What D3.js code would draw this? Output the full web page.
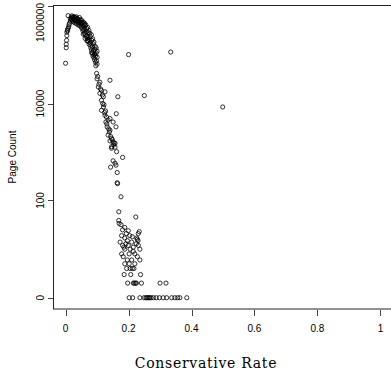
<!doctype html>
<html lang="en">
  <head>
    <meta charset="utf-8">
    <title>Page Count vs Conservative Rate</title>
    <script src="https://d3js.org/d3.v7.min.js"></script>
    <style>
      body { margin: 0; background: #fff; }
      .tick-label { font-family: "Liberation Sans", Arial, sans-serif; font-size: 10px; fill: #000; }
      .pt { fill: none; stroke: #000; stroke-width: 0.8; }
    </style>
  </head>
  <body>
    <script>

      // one entry per page group: conservative rate and page count
      var conservativeRate = [
        // left column near 0
        0.000, 0.002, 0.002, 0.003, 0.004, 0.004, 0.006, 0.006, 0.008, 0.010, 0.011,
        // peak and upper decline
        0.008, 0.015, 0.018, 0.020, 0.022, 0.025, 0.025, 0.028, 0.030, 0.030,
        0.032, 0.035, 0.035, 0.038, 0.040, 0.040, 0.042, 0.045, 0.045, 0.048,
        0.050, 0.050, 0.052, 0.055, 0.055, 0.058, 0.060, 0.060, 0.062, 0.065,
        0.065, 0.068, 0.070, 0.070, 0.072, 0.075, 0.075, 0.078, 0.080, 0.080,
        0.082, 0.085, 0.085, 0.088, 0.090, 0.090, 0.092, 0.095, 0.095, 0.098,
        0.018, 0.022, 0.028, 0.033, 0.042, 0.047, 0.053, 0.058, 0.062, 0.067,
        0.072, 0.078, 0.083, 0.088, 0.093, 0.097, 0.100, 0.015, 0.012,
        0.020, 0.026, 0.034, 0.037, 0.044, 0.050, 0.056, 0.060, 0.064, 0.070,
        0.074, 0.077, 0.082, 0.086, 0.090, 0.094, 0.097, 0.100, 0.100, 0.096,
        0.092, 0.087, 0.083, 0.068, 0.062, 0.056,
        // steep section
        0.0985, 0.100, 0.109, 0.104, 0.114, 0.109, 0.120, 0.114, 0.125, 0.114,
        0.120, 0.125, 0.130, 0.128, 0.135, 0.141, 0.151, 0.132, 0.141, 0.135,
        0.146, 0.151, 0.157, 0.146,
        0.102, 0.106, 0.111, 0.117, 0.118, 0.122, 0.124, 0.127, 0.131, 0.137,
        0.139, 0.143, 0.148, 0.153,
        // outliers
        0.141, 0.166, 0.161, 0.160, 0.200, 0.334, 0.250, 0.499,
        // middle
        0.141, 0.154, 0.146, 0.157, 0.162, 0.181, 0.151, 0.157, 0.160, 0.143,
        0.164, 0.164, 0.165, 0.176,
        // low counts
        0.169, 0.223, 0.169, 0.170, 0.176, 0.188, 0.181, 0.199, 0.178, 0.204,
        0.231, 0.234, 0.226, 0.188, 0.196, 0.173, 0.210, 0.181, 0.199, 0.215,
        0.231, 0.188, 0.236, 0.178, 0.202, 0.220, 0.183, 0.228, 0.196, 0.210,
        0.236, 0.188, 0.202, 0.220, 0.194, 0.217, 0.205, 0.212,
        0.192, 0.205, 0.215, 0.185, 0.225, 0.228, 0.193, 0.212, 0.230,
        0.186, 0.207, 0.238,
        0.197, 0.215, 0.218, 0.222, 0.225, 0.241, 0.300, 0.319,
        0.202, 0.213, 0.236, 0.249, 0.255, 0.258, 0.262, 0.265, 0.268, 0.272,
        0.279, 0.288, 0.298, 0.310, 0.321, 0.337, 0.347, 0.356, 0.363, 0.385
      ];

      var pageCount = [
        67600, 141000, 166000, 200000, 251000, 295000, 316000, 331000, 355000, 380000, 417000,
        646000, 562000, 603000, 525000, 501000, 575000, 479000, 525000, 457000, 550000,
        501000, 437000, 525000, 479000, 417000, 501000, 457000, 398000, 479000, 437000,
        380000, 457000, 355000, 398000, 316000, 331000, 282000, 355000, 263000, 302000,
        240000, 251000, 224000, 200000, 191000, 209000, 166000, 178000, 158000, 141000,
        126000, 151000, 112000, 120000, 100000, 89100, 79400, 95500, 70800, 75900,
        550000, 590000, 600000, 580000, 540000, 520000, 470000, 430000, 400000, 350000,
        290000, 240000, 200000, 170000, 130000, 110000, 90000, 500000, 450000,
        640000, 620000, 610000, 560000, 590000, 530000, 480000, 450000, 420000, 370000,
        320000, 280000, 260000, 215000, 185000, 150000, 140000, 120000, 65000, 60000,
        105000, 95000, 110000, 195000, 220000, 270000,
        41700, 32400, 27500, 21900, 18600, 16200, 13800, 11700, 17400, 7240,
        8500, 5750, 5250, 4170, 4570, 4900, 4170, 3310, 2820, 2240,
        1910, 1620, 1510, 1290,
        36000, 25000, 20000, 15000, 10000, 9500, 6500, 7000, 3800, 3000,
        2600, 2100, 1800, 1400,
        30200, 13800, 6170, 3310, 102000, 115000, 14600, 8500,
        1700, 1550, 1200, 1260, 1020, 775, 660, 588, 536, 489,
        379, 233, 223, 119,
        58, 45, 38, 33, 31, 27, 24, 23, 18, 18,
        20, 22, 16, 16, 14, 13, 13, 11, 11, 10,
        11, 9, 9, 7, 7, 7, 6, 6, 5, 5,
        5, 4, 4, 4, 3, 3, 3, 3,
        12, 9, 8, 10, 12, 15, 20, 17, 14,
        2, 2, 2,
        1, 1, 1, 1, 1, 1, 1, 1,
        0, 0, 0, 0, 0, 0, 0, 0, 0, 0,
        0, 0, 0, 0, 0, 0, 0, 0, 0, 0
      ];

      var xTicks = [0, 0.2, 0.4, 0.6, 0.8, 1];
      var yTicks = [0, 100, 10000, 1000000];

      var width = 391, height = 376;

      var svg = d3.select("body").append("svg")
          .attr("width", width)
          .attr("height", height);

      svg.append("rect").attr("width", width).attr("height", height).attr("fill", "#fff");

      // plot region, R style 4% padding; right edge falls just outside the window
      var x = d3.scaleLinear().domain([-0.04, 1.04]).range([53, 393]);
      var y = d3.scaleLinear().domain([-0.232, 6.03]).range([309, 5]);
      function yv(v) { return y(Math.log10(v + 1)); }

      svg.append("rect")
          .attr("x", 53.5).attr("y", 5.5)
          .attr("width", 340).attr("height", 303.5)
          .attr("fill", "none").attr("stroke", "#222").attr("stroke-width", 1);

      // x axis ticks
      var xa = svg.append("g").attr("class", "x-axis");
      xa.selectAll("line").data(xTicks).enter().append("line")
          .attr("x1", function(d){ return Math.round(x(d)) + 0.5; })
          .attr("x2", function(d){ return Math.round(x(d)) + 0.5; })
          .attr("y1", 310).attr("y2", 316)
          .attr("stroke", "#444");
      xa.selectAll("text").data(xTicks).enter().append("text")
          .attr("class", "tick-label")
          .attr("x", function(d){ return x(d); })
          .attr("y", 332)
          .attr("text-anchor", "middle")
          .text(function(d){ return d3.format("")(d); });

      // y axis ticks (log10(count + 1))
      var ya = svg.append("g").attr("class", "y-axis");
      ya.selectAll("line").data(yTicks).enter().append("line")
          .attr("x1", 48).attr("x2", 53)
          .attr("y1", function(d){ return Math.round(yv(d)) + 0.5; })
          .attr("y2", function(d){ return Math.round(yv(d)) + 0.5; })
          .attr("stroke", "#444");
      ya.selectAll("text").data(yTicks).enter().append("text")
          .attr("class", "tick-label")
          .attr("text-anchor", "middle")
          .text(String)
          .attr("transform", function(d){
            var w = this.getComputedTextLength();
            var cy = Math.max(yv(d), 3 + w / 2);
            return "translate(44," + cy + ") rotate(-90)";
          });

      // points
      var pts = conservativeRate.map(function(r, i){ return { r: r, n: pageCount[i] }; });
      svg.append("g").selectAll("circle").data(pts).enter().append("circle")
          .attr("class", "pt")
          .attr("cx", function(d){ return x(d.r); })
          .attr("cy", function(d){ return yv(d.n); })
          .attr("r", 2.1);

      // axis titles
      svg.append("text")
          .attr("x", 206).attr("y", 368)
          .attr("text-anchor", "middle")
          .style("font-family", "'DejaVu Serif', serif")
          .style("font-size", "14px")
          .style("letter-spacing", "0.7px")
          .text("Conservative Rate");

      svg.append("text")
          .attr("class", "tick-label")
          .attr("text-anchor", "middle")
          .attr("transform", "translate(16,157) rotate(-90)")
          .text("Page Count");

    </script>
  </body>
</html>
